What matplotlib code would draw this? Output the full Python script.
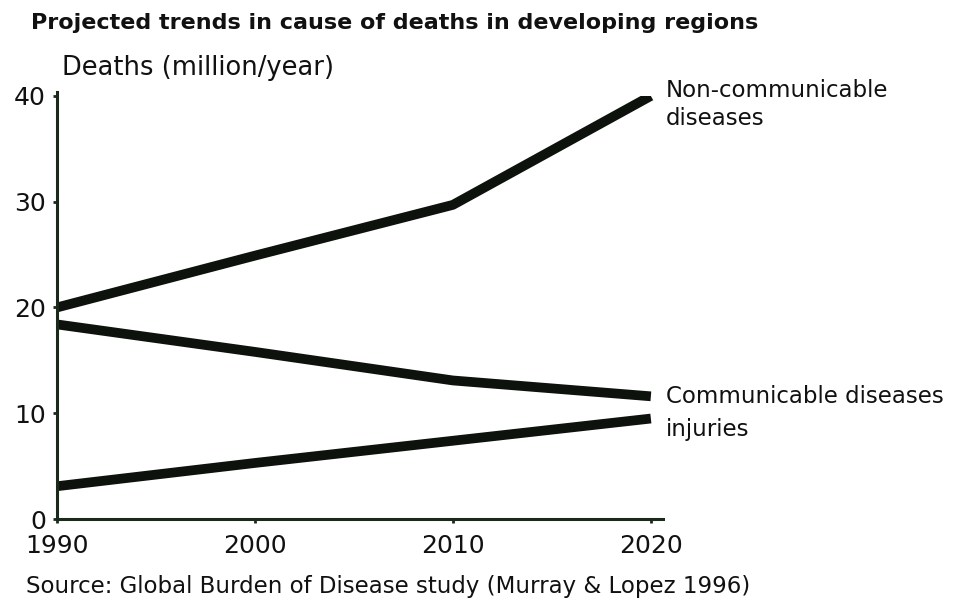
import matplotlib.pyplot as plt

plt.rcParams["font.family"] = ["DejaVu Sans"]

years = [1990, 2000, 2010, 2020]
non_communicable = [20.0, 24.9, 29.7, 40.0]
communicable = [18.4, 15.8, 13.1, 11.6]
injuries = [3.1, 5.3, 7.4, 9.5]

yticks = [0, 10, 20, 30, 40]
xticks = [1990, 2000, 2010, 2020]

fig = plt.figure(figsize=(9.54, 6.01), dpi=100)
ax = fig.add_axes([0.0597, 0.1364, 0.635, 0.704])

line_kw = dict(color="#0d120d", lw=7, solid_capstyle="butt", solid_joinstyle="round")
ax.plot(years, non_communicable, **line_kw)
ax.plot(years, communicable, **line_kw)
ax.plot(years, injuries, **line_kw)

ax.set_xlim(1990, 2020.6)
ax.set_ylim(0, 40)
ax.set_xticks(xticks)
ax.set_yticks(yticks)
ax.tick_params(axis="both", labelsize=18, length=3, width=2, color="#1a2a1a",
               labelcolor="#111111")
ax.tick_params(axis="y", pad=5)
ax.tick_params(axis="x", pad=8)
for s in ["top", "right"]:
    ax.spines[s].set_visible(False)
for s in ["left", "bottom"]:
    ax.spines[s].set_linewidth(2.2)
    ax.spines[s].set_color("#1a2a1a")
ax.spines["left"].set_bounds(0, 40.4)

# labels at the end of each line
ax.annotate("Non-communicable\ndiseases", xy=(2020, non_communicable[-1]),
            xytext=(11, -6), textcoords="offset points", fontsize=16.5,
            va="center", ha="left", linespacing=1.3, annotation_clip=False,
            color="#111111")
ax.annotate("Communicable diseases", xy=(2020, communicable[-1]),
            xytext=(11, 0), textcoords="offset points", fontsize=16.5,
            va="center", ha="left", annotation_clip=False, color="#111111")
ax.annotate("injuries", xy=(2020, injuries[-1]),
            xytext=(11, -8), textcoords="offset points", fontsize=16.5,
            va="center", ha="left", annotation_clip=False, color="#111111")

fig.text(0.033, 0.962, "Projected trends in cause of deaths in developing regions",
         fontsize=16, fontweight="bold", va="center", ha="left", color="#111111")
fig.text(0.065, 0.887, "Deaths (million/year)", fontsize=18.5, va="center", ha="left",
         color="#111111")
fig.text(0.027, 0.024, "Source: Global Burden of Disease study (Murray & Lopez 1996)",
         fontsize=16.5, va="center", ha="left", color="#111111")

fig.savefig("out.png", dpi=100)
